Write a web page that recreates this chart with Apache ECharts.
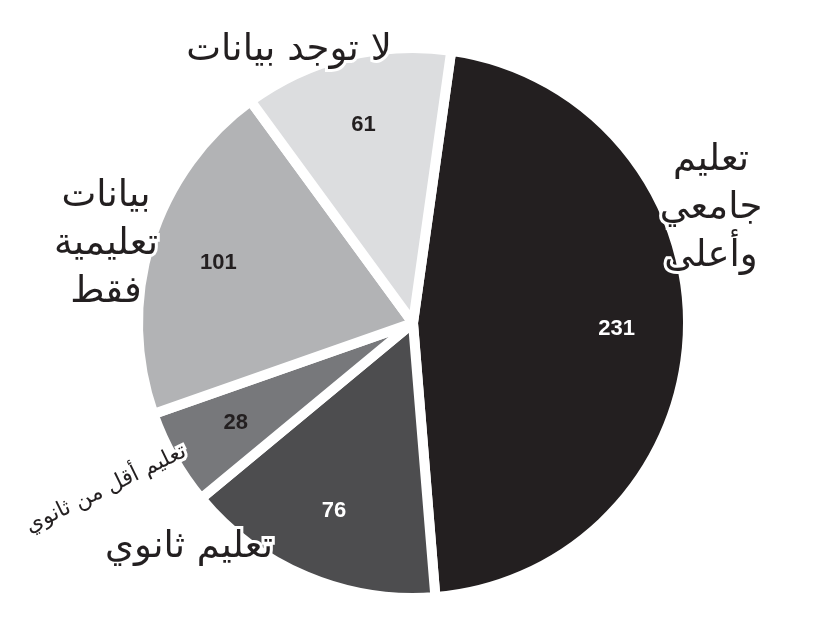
<!DOCTYPE html>
<html>
<head>
<meta charset="utf-8">
<script src="https://cdn.jsdelivr.net/npm/echarts@6/dist/echarts.min.js"></script>
<style>
	html, body { margin: 0; padding: 0; background: #fff; }
	#chart { width: 830px; height: 622px; }
</style>
</head>
<body>
<div id="chart"></div>
<script>
// 数据
var names = ['تعليم جامعي وأعلى', 'تعليم ثانوي', 'تعليم أقل من ثانوي', 'بيانات تعليمية فقط', 'لا توجد بيانات'];
var nameLines = ['تعليم\nجامعي\nوأعلى', 'تعليم ثانوي', 'تعليم أقل من ثانوي', 'بيانات\nتعليمية\nفقط', 'لا توجد بيانات'];
var values = [231, 76, 28, 101, 61];
var colors = ['#231f20', '#4d4d4f', '#77787b', '#b2b3b5', '#dcdddf'];
var valueColors = ['#fff', '#fff', '#231f20', '#231f20', '#231f20'];

// 名称标签位置 (x, y, 字号, 旋转)
var namePos = [
	[711, 208, 37, 0],
	[189, 547, 37, 0],
	[106, 489, 22, 26],
	[106, 244, 37, 0],
	[289, 50, 37, 0]
];

var center = [413, 323];
var radius = 275;

var pieData = values.map(function (v, i) {
	return {
		value: v,
		name: names[i],
		itemStyle: { color: colors[i] },
		label: { formatter: nameLines[i], fontSize: namePos[i][2] }
	};
});

var ringData = values.map(function (v, i) {
	return {
		value: v,
		name: names[i],
		label: { color: valueColors[i] }
	};
});

var myChart = echarts.init(document.getElementById('chart'), null, { renderer: 'canvas' });
var option = {
	animation: false,
	series: [{
		type: 'pie',
		silent: true,
		center: center,
		radius: [0, radius],
		startAngle: 82,
		clockwise: true,
		itemStyle: { borderColor: '#fff', borderWidth: 10 },
		label: {
			show: true,
			position: 'outside',
			fontFamily: 'DejaVu Sans',
			color: '#231f20',
			lineHeight: 48,
			overflow: 'none',
			width: 400,
			textBorderColor: '#fff',
			textBorderWidth: 6
		},
		labelLine: { show: false },
		labelLayout: function (params) {
			var p = namePos[params.dataIndex];
			return { x: p[0], y: p[1], align: 'center', verticalAlign: 'middle', rotate: p[3] };
		},
		data: pieData
	}, {
		// 透明环，用于放置数值标签
		type: 'pie',
		silent: true,
		center: center,
		radius: [radius * 0.46, radius],
		startAngle: 82,
		clockwise: true,
		itemStyle: { color: 'rgba(0,0,0,0)' },
		label: {
			show: true,
			position: 'inside',
			formatter: '{c}',
			fontFamily: 'Liberation Sans',
			fontWeight: 'bold',
			fontSize: 22
		},
		labelLine: { show: false },
		data: ringData
	}]
};
myChart.setOption(option);
</script>
</body>
</html>
